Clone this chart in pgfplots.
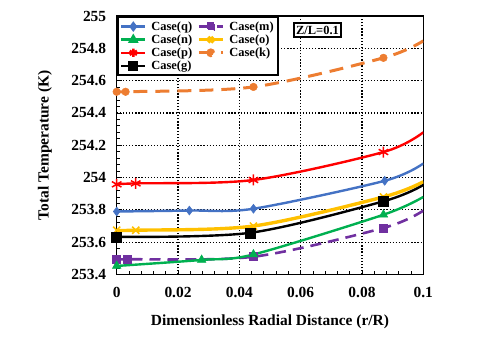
\documentclass[border=0pt]{standalone}
\usepackage{fontspec}
\setmainfont{Liberation Serif}
\usepackage{pgfplots}
\pgfplotsset{compat=1.18}
\definecolor{cq}{RGB}{68,114,196}
\definecolor{cn}{RGB}{0,176,80}
\definecolor{cp}{RGB}{255,0,0}
\definecolor{cg}{RGB}{0,0,0}
\definecolor{cm}{RGB}{112,48,160}
\definecolor{co}{RGB}{255,192,0}
\definecolor{ck}{RGB}{237,125,49}

\begin{document}
\begin{tikzpicture}
\begin{axis}[
  scale only axis,
  width=306.6bp, height=258.5bp,
  xmin=0, xmax=0.1, ymin=253.4, ymax=255,
  xtick={0,0.02,0.04,0.06,0.08,0.1},
  xticklabels={0,0.02,0.04,0.06,0.08,0.1},
  ytick={253.4,253.6,253.8,254,254.2,254.4,254.6,254.8,255},
  yticklabels={253.4,253.6,253.8,254,254.2,254.4,254.6,254.8,255},
  minor x tick num=4, minor y tick num=4,
  xtick pos=left, ytick pos=left,
  tick align=inside,
  major tick length=5bp, minor tick length=3.5bp,
  tick style={black, line width=0.8bp},
  grid=major,
  major grid style={black, line width=1.2bp, dash pattern=on 1.3bp off 1.8bp},
  axis line style={line width=1.5bp},
  ticklabel style={font=\fontsize{15.5}{16}\selectfont\bfseries},
  yticklabel style={xshift=-7bp},
  xticklabel style={yshift=-9bp},
  xlabel={Dimensionless Radial Distance (r/R)},
  ylabel={Total Temperature (K)},
  xlabel style={font=\fontsize{15.5}{16}\selectfont\bfseries, at={(axis description cs:0.5,-0.184)}, anchor=center},
  ylabel style={font=\fontsize{15.5}{16}\selectfont\bfseries, at={(axis description cs:-0.234,0.5)}, anchor=center},
  legend columns=2,
  legend cell align=left,
  legend style={at={(0,1)}, anchor=north west, draw=black, line width=2bp,
    font=\fontsize{12.5}{13}\selectfont\bfseries, column sep=3bp, row sep=-1bp,
    inner sep=2.5bp},
  legend image code/.code={\draw[mark indices={2}, mark options={scale=0.75}] plot coordinates {(0cm,0cm) (0.42cm,0cm) (0.84cm,0cm)};},
  every axis plot/.append style={smooth, tension=0.5},
]
% Case(q)
\addplot[color=cq, line width=2.4bp, mark=diamond*, mark size=4.5bp, mark options={solid, line width=0.5bp}, mark indices={1,2,3,4}] coordinates {
  (0,253.790) (0.0237,253.796) (0.0446,253.807) (0.0874,253.980) (0.1,254.087)
};
\addlegendentry{Case(q)}
% Case(m)
\addplot[color=cm, line width=2.6bp, dash pattern=on 11bp off 7bp, mark=square*, mark size=4bp, mark options={solid, line width=0.5bp}, mark indices={1,2,3,4}] coordinates {
  (0,253.494) (0.0036,253.494) (0.0446,253.510) (0.087,253.688) (0.1,253.795)
};
\addlegendentry{Case(m)}
% Case(n)
\addplot[color=cn, line width=2.4bp, mark=triangle*, mark size=5bp, mark options={solid, line width=0.5bp}, mark indices={1,2,3,4}] coordinates {
  (0,253.453) (0.0277,253.490) (0.0446,253.524) (0.087,253.770) (0.1,253.880)
};
\addlegendentry{Case(n)}
% Case(o)
\addplot[color=co, line width=3.4bp, mark=x, mark size=5bp, mark options={solid, line width=1.5bp}, mark indices={1,2,3,4}] coordinates {
  (0,253.674) (0.0062,253.674) (0.0446,253.700) (0.087,253.880) (0.1,253.974)
};
\addlegendentry{Case(o)}
% Case(p)
\addplot[color=cp, line width=2.4bp, mark=asterisk, mark size=5.5bp, mark options={solid, line width=1.5bp}, mark indices={1,2,3,4}] coordinates {
  (0,253.958) (0.0062,253.964) (0.0446,253.985) (0.0870,254.158) (0.1,254.280)
};
\addlegendentry{Case(p)}
% Case(k)
\addplot[color=ck, line width=3bp, dash pattern=on 14bp off 8bp, mark=*, mark size=3.8bp, mark options={solid, line width=0.5bp}, mark indices={1,2,3,4}] coordinates {
  (0,254.531) (0.0029,254.531) (0.0446,254.561) (0.087,254.741) (0.1,254.846)
};
\addlegendentry{Case(k)}
% Case(g)
\addplot[color=cg, line width=2.4bp, mark=square*, mark size=5bp, mark options={solid, line width=0.5bp}, mark indices={1,2,3}] coordinates {
  (0,253.633) (0.0435,253.658) (0.087,253.853) (0.1,253.954)
};
\addlegendentry{Case(g)}

\node[draw=black, line width=2bp, fill=white, inner sep=2.5bp,
  font=\fontsize{12.5}{13}\selectfont\bfseries] at (rel axis cs:0.655,0.946) {Z/L=0.1};
\end{axis}
\pgfresetboundingbox
\path (current axis.south west) ++(-116.7bp,-82.5bp) rectangle ++(480bp,357bp);
\end{tikzpicture}
\end{document}
